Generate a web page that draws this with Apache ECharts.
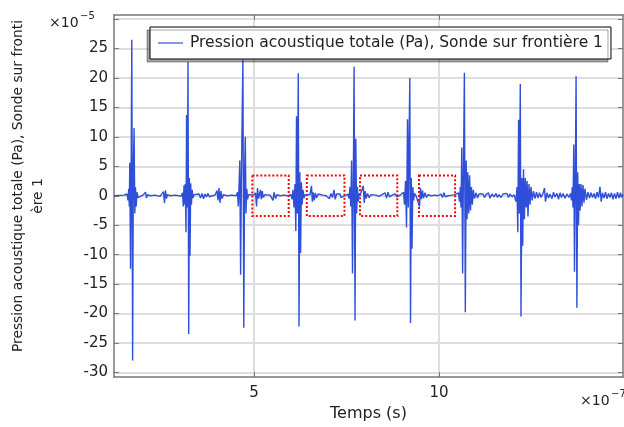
<!DOCTYPE html>
<html>
<head>
<meta charset="utf-8">
<script src="https://cdn.jsdelivr.net/npm/echarts@6/dist/echarts.min.js"></script>
<style>
html,body{margin:0;padding:0;background:#fff;}
#chart{width:624px;height:427px;}
</style>
</head>
<body>
<div id="chart"></div>
<script>
// Time in units of 1e-7 s, pressure in units of 1e-5 Pa
const timeE7 = [
  1.216, 1.486,
  1.568, 1.595, 1.614, 1.630, 1.643, 1.662, 1.678, 1.697, 1.719, 1.738, 1.759, 1.778, 1.797, 1.816, 1.838, 1.865, 1.892,
  2.000, 2.068, 2.095, 2.122, 2.189, 2.324, 2.459, 2.554, 2.581, 2.608, 2.635, 2.662, 2.730, 2.892, 3.027,
  3.068, 3.089, 3.108, 3.127, 3.143, 3.162, 3.178, 3.197, 3.216, 3.235, 3.254, 3.270, 3.289, 3.308, 3.330, 3.351, 3.378, 3.405,
  3.514, 3.554, 3.595, 3.635, 3.676, 3.716, 3.757, 3.797, 3.865, 3.946, 4.000, 4.027, 4.054, 4.081, 4.108, 4.135, 4.176, 4.270, 4.405, 4.514,
  4.554, 4.576, 4.595, 4.616, 4.638, 4.659, 4.700, 4.724, 4.746, 4.765, 4.784, 4.805, 4.827, 4.851, 4.892,
  5.000, 5.041, 5.068, 5.095, 5.122, 5.149, 5.176, 5.197, 5.224, 5.251, 5.297, 5.351, 5.432, 5.486, 5.514, 5.541, 5.581, 5.622, 5.703, 5.811, 5.919,
  6.000, 6.027, 6.054, 6.081, 6.108, 6.130, 6.149, 6.170, 6.197, 6.216, 6.238, 6.259, 6.281, 6.303, 6.324, 6.351, 6.378, 6.432,
  6.514, 6.554, 6.576, 6.600, 6.627, 6.657, 6.689, 6.730, 6.784, 6.865, 6.946, 7.000, 7.041, 7.081, 7.122, 7.162, 7.195, 7.230, 7.270, 7.324, 7.351, 7.405, 7.486,
  7.541, 7.568, 7.595, 7.616, 7.638, 7.662, 7.684, 7.705, 7.730, 7.751, 7.773, 7.795, 7.816, 7.838, 7.865,
  7.919, 7.954, 7.978, 8.005, 8.032, 8.068, 8.108, 8.162, 8.216, 8.297, 8.378, 8.459, 8.541, 8.581, 8.622, 8.662, 8.730, 8.811, 8.865, 8.946, 9.000,
  9.041, 9.068, 9.095, 9.122, 9.149, 9.170, 9.211, 9.230, 9.249, 9.270, 9.292, 9.314, 9.338, 9.378,
  9.432, 9.473, 9.500, 9.527, 9.554, 9.581, 9.622, 9.662, 9.703, 9.784, 9.892, 9.973, 10.054, 10.095, 10.135, 10.176, 10.243, 10.351, 10.432, 10.486,
  10.527, 10.554, 10.576, 10.595, 10.616, 10.638, 10.659, 10.686, 10.711, 10.735, 10.757, 10.778, 10.803, 10.827, 10.851, 10.876, 10.900, 10.927, 10.959, 11.000, 11.041, 11.081, 11.135,
  11.189, 11.230, 11.270, 11.338, 11.378, 11.432, 11.486, 11.541, 11.581, 11.622, 11.676, 11.730, 11.784, 11.838, 11.878, 11.919, 11.973, 12.027,
  12.054, 12.081, 12.108, 12.130, 12.151, 12.173, 12.197, 12.216, 12.241, 12.262, 12.284, 12.308, 12.332, 12.357, 12.381, 12.405, 12.432, 12.459, 12.486,
  12.519, 12.554, 12.595, 12.635, 12.676, 12.716, 12.757, 12.811, 12.851, 12.878, 12.919, 12.959, 13.000, 13.054, 13.095, 13.135, 13.189, 13.230, 13.270, 13.311, 13.351, 13.405, 13.459, 13.514, 13.554,
  13.581, 13.603, 13.622, 13.643, 13.662, 13.684, 13.705, 13.727, 13.749, 13.770, 13.792, 13.814, 13.838, 13.865, 13.892, 13.919, 13.946, 13.986,
  14.027, 14.068, 14.108, 14.149, 14.189, 14.230, 14.270, 14.311, 14.351, 14.384, 14.419, 14.459, 14.500, 14.541, 14.581, 14.622, 14.662, 14.703, 14.743, 14.784, 14.824, 14.865, 14.905, 14.946, 14.973
];
const pressureE5 = [
  0, 0.1,
  0.3, -0.8, 1.2, -1.8, 5.6, -12.4, 2.5, 26.5, -28, 4, 11.5, -3, 1.5, -1.8, 0.6, -0.3, 0,
  0.1, 0.6, -0.4, 0.2, 0, 0.1, -0.1, 0.7, -1.2, 0.9, -0.5, 0.2, 0, 0.1, -0.1,
  0.5, -1.8, 1.8, -1.5, 2, -6.2, 13.7, -2, 22.7, -23.5, 3, -10.2, 2.1, -1.5, 1, -0.4, 0.2, 0,
  0.3, -0.4, 0.4, -0.5, 0.3, -0.2, 0.4, -0.2, 0, 0.1, 0.9, -0.8, 1.3, -1.2, 0.8, -0.5, 0.2, 0, 0.1, 0,
  0.6, -1.8, 1.5, 6, -13.4, 3, 23, -22.4, 4, 10, -3, 1.2, -0.6, 0.2, 0,
  0.1, 0.5, -1.8, 1.3, -0.5, 0.3, 1.0, -0.6, 0.8, -0.3, 0.2, 0, 0.1, 0.3, -0.8, 0.6, -0.5, 0.2, 0, 0.1, 0,
  0.2, -0.6, 1, -2, 2, -6, 13.5, -3, 20.8, -22.2, 4, -9.7, 2.3, -1.5, 1, -0.4, 0.2, 0,
  0.2, 1.7, -1, 0.6, -0.8, 0.5, -0.4, 0.3, 0, 0.1, 0, 0.3, -0.5, 0.4, -0.3, 1, -0.6, 0.3, 0, 0.3, -0.3, 0, 0.1,
  0.3, -0.5, 1.5, -1.8, 6, -13.2, 2, 21.9, -21.2, 9.7, -3, 1.5, -1, 0.4, 0,
  0.3, 1.7, -1.2, 0.8, -0.5, 0.4, -0.3, 0.2, 0, 0.1, -0.1, 0.2, 0.5, -0.4, 0.6, -0.2, 0.1, 0.3, -0.2, 0.1, 0,
  0.6, -1.5, 2.5, -5.4, 13, -2, 20, -21.6, 3, -9, 1.5, -0.8, 0.4, 0,
  0.2, -1.8, 1.3, -0.6, 0.9, -0.4, 0.5, -0.3, 0.2, 0, 0.1, 0, 0.3, -0.3, 0.5, -0.2, 0, 0.1, 0.2, 0,
  0.5, -1, 1.5, -2, 8.2, -13.2, 3, 20.9, -19.8, 6, -4, 4, -3, 3.5, -2.5, 1.5, -1.5, 1, -0.5, 0.5, -0.4, 0.3, 0,
  0.3, -0.3, 0.2, 0.5, -0.4, 0.3, -0.2, 0.4, -0.3, 0.2, -0.3, 0.3, 0, 0.4, -0.3, 0.3, -0.2, 0.2,
  0.5, -1, 1.5, -6.2, 12.9, -3, 19, -20.5, 3, -8.5, 4.5, -4, 3, -2, 2.5, -3.5, 2, -1.5, 1.5,
  -0.8, 0.8, -0.5, 0.6, -0.4, 0.5, -0.3, 0.4, 1.3, -1, 0.5, -0.4, 0.3, -0.5, 0.6, -0.2, 0.4, -0.6, 0.5, -0.3, 0.4, -0.4, 0.3, -0.3, 0.4,
  -0.8, 1.5, -2, 8.7, -12.9, 3, 20.3, -19, 4, -5, 2, -2.5, 2, -1.8, 1.8, -1.2, 1.2, -0.7,
  0.6, -0.4, 0.5, -0.3, 0.4, -0.5, 0.6, -0.3, 1.5, -1, 0.5, -0.4, 0.6, -0.5, 0.4, -0.3, 0.5, -0.6, 0.4, -0.5, 0.6, -0.4, 0.5, -0.3, 0.2
];
const seriesName = 'Pression acoustique totale (Pa), Sonde sur frontière 1';
const xTickValues = [5, 10];
const yTickValues = [-30, -25, -20, -15, -10, -5, 0, 5, 10, 15, 20, 25, 30];
const yLabelValues = [-30, -25, -20, -15, -10, -5, 0, 5, 10, 15, 20, 25];
// Highlighted windows (red dotted boxes): [t start, t end] in 1e-7 s, half height in 1e-5 Pa
const boxStarts = [4.954, 6.427, 7.865, 9.459];
const boxEnds = [5.938, 7.445, 8.873, 10.435];
const boxHalfHeight = 3.45;

const FONT = 'DejaVu Sans';
const data = timeE7.map((t, i) => [t, pressureE5[i]]);
const axisLineStyle = { color: '#777777', width: 1.5 };
const tickStyle = { color: '#777777', width: 1 };
const LINE_COLOR = '#2f4fd8';

const chart = echarts.init(document.getElementById('chart'), null, { renderer: 'canvas' });
chart.setOption({
  animation: false,
  backgroundColor: '#ffffff',
  grid: { left: 114, right: 1, top: 15, bottom: 43, containLabel: false },
  legend: {
    left: 150, top: 27,
    padding: [8, 8, 8, 8],
    icon: 'rect',
    itemWidth: 25, itemHeight: 1.2, itemGap: 5,
    backgroundColor: '#ffffff',
    borderColor: '#000000', borderWidth: 1,
    shadowColor: 'rgba(0,0,0,0.35)', shadowBlur: 0, shadowOffsetX: -3, shadowOffsetY: 3,
    textStyle: { fontFamily: FONT, fontSize: 15.5, color: '#222', padding: [0, 0, 0, 2] },
    data: [seriesName]
  },
  xAxis: [{
    type: 'value', min: 1.216, max: 14.973,
    axisLine: { show: true, onZero: false, lineStyle: axisLineStyle },
    axisTick: { show: true, inside: true, length: 5, customValues: xTickValues, lineStyle: tickStyle },
    axisLabel: { customValues: xTickValues, fontFamily: FONT, fontSize: 15, color: '#222', margin: 9 },
    splitLine: { show: true, lineStyle: { color: '#dedede', width: 2 } },
    name: 'Temps (s)', nameLocation: 'middle', nameGap: 28,
    nameTextStyle: { fontFamily: FONT, fontSize: 16, color: '#222' }
  }, {
    type: 'value', min: 1.216, max: 14.973, position: 'top',
    axisLine: { show: true, onZero: false, lineStyle: axisLineStyle },
    axisTick: { show: true, inside: true, length: 5, customValues: xTickValues, lineStyle: tickStyle },
    axisLabel: { show: false },
    splitLine: { show: false }
  }],
  yAxis: [{
    type: 'value', min: -30.8, max: 30.7,
    axisLine: { show: true, onZero: false, lineStyle: axisLineStyle },
    axisTick: { show: true, inside: true, length: 5, customValues: yTickValues, lineStyle: tickStyle },
    axisLabel: { customValues: yLabelValues, fontFamily: FONT, fontSize: 15, color: '#222', margin: 6 },
    splitLine: { show: true, lineStyle: { color: '#dedede', width: 2 } }
  }, {
    type: 'value', min: -30.8, max: 30.7, position: 'right',
    axisLine: { show: true, onZero: false, lineStyle: axisLineStyle },
    axisTick: { show: true, inside: true, length: 5, customValues: yTickValues, lineStyle: tickStyle },
    axisLabel: { show: false },
    splitLine: { show: false }
  }],
  series: [{
    name: seriesName,
    type: 'line',
    xAxisIndex: 0, yAxisIndex: 0,
    data: data,
    symbol: 'none',
    showSymbol: false,
    lineStyle: { color: LINE_COLOR, width: 1.4 },
    itemStyle: { color: LINE_COLOR },
    markArea: {
      silent: true,
      itemStyle: { color: 'rgba(0,0,0,0)', borderColor: '#ff0000', borderWidth: 2, borderType: 'dotted' },
      label: { show: false },
      data: boxStarts.map((s, i) => [{ xAxis: s, yAxis: boxHalfHeight }, { xAxis: boxEnds[i], yAxis: -boxHalfHeight }])
    }
  }],
  graphic: [
    { type: 'text', x: 49, y: 23, style: { text: '×10', font: '14px "DejaVu Sans"', fill: '#222', textVerticalAlign: 'middle' } },
    { type: 'text', x: 80, y: 16, style: { text: '−5', font: '10px "DejaVu Sans"', fill: '#222', textVerticalAlign: 'middle' } },
    { type: 'text', x: 580, y: 401, style: { text: '×10', font: '14px "DejaVu Sans"', fill: '#222', textVerticalAlign: 'middle' } },
    { type: 'text', x: 611, y: 394, style: { text: '−7', font: '10px "DejaVu Sans"', fill: '#222', textVerticalAlign: 'middle' } },
    { type: 'text', x: 18, y: 186, rotation: Math.PI / 2, style: { text: 'Pression acoustique totale (Pa), Sonde sur fronti', font: '13.8px "DejaVu Sans"', fill: '#222', textAlign: 'center', textVerticalAlign: 'middle' } },
    { type: 'text', x: 38, y: 196, rotation: Math.PI / 2, style: { text: 'ère 1', font: '13.8px "DejaVu Sans"', fill: '#222', textAlign: 'center', textVerticalAlign: 'middle' } }
  ]
});
</script>
</body>
</html>
